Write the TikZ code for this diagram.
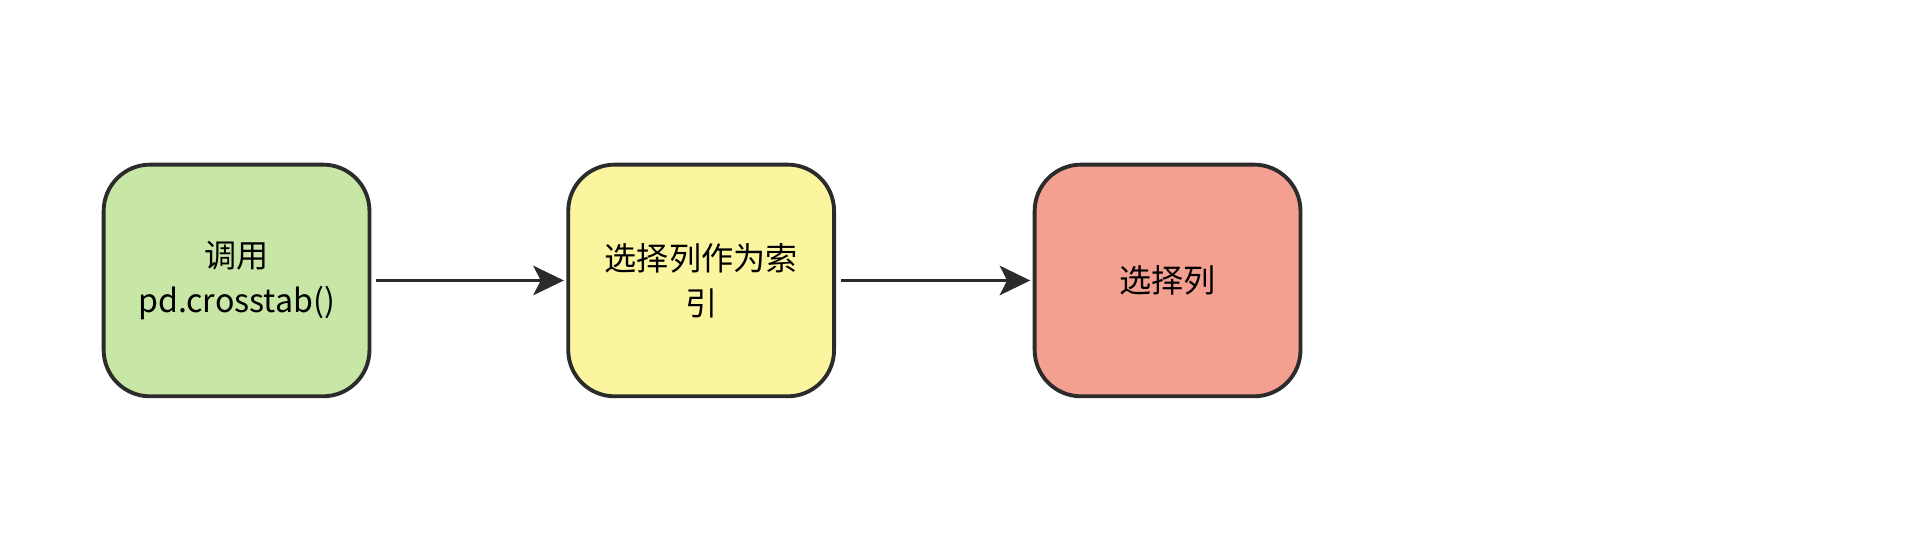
\documentclass[tikz,border=0pt]{standalone}
\usepackage{fontspec}
\setmainfont{Noto Sans CJK SC}
\usetikzlibrary{arrows.meta,positioning}
\definecolor{callgreen}{HTML}{C8E6A5}
\definecolor{idxyellow}{HTML}{FBF59F}
\definecolor{selred}{HTML}{F4A090}
\definecolor{linegray}{HTML}{2B2B2B}
\tikzstyle{stepbox} = [draw=linegray,line width=0.9pt,rounded corners=0.38cm,minimum width=2.18cm,minimum height=1.9cm,text width=1.9cm,align=center,font=\fontsize{7.5}{10.5}\selectfont]
\tikzstyle{arrow} = [draw=linegray,line width=0.9pt,-{Stealth[length=0.25cm,width=0.24cm,inset=0.06cm]}]

\begin{document}
\begin{tikzpicture}
		\useasboundingbox (0,0) rectangle (15.68,4.46);
		\node[stepbox,fill=callgreen] (call) at (1.94,2.16) {调用\\pd.crosstab()};
		\node[stepbox,fill=idxyellow] (index) at (5.75,2.16) {选择列作为索\\引};
		\node[stepbox,fill=selred] (select) at (9.575,2.16) {选择列};

		\draw[arrow] ([xshift=0.04cm]call.east) -- ([xshift=-0.02cm]index.west);
		\draw[arrow] ([xshift=0.04cm]index.east) -- ([xshift=-0.02cm]select.west);
	\end{tikzpicture}
\end{document}
